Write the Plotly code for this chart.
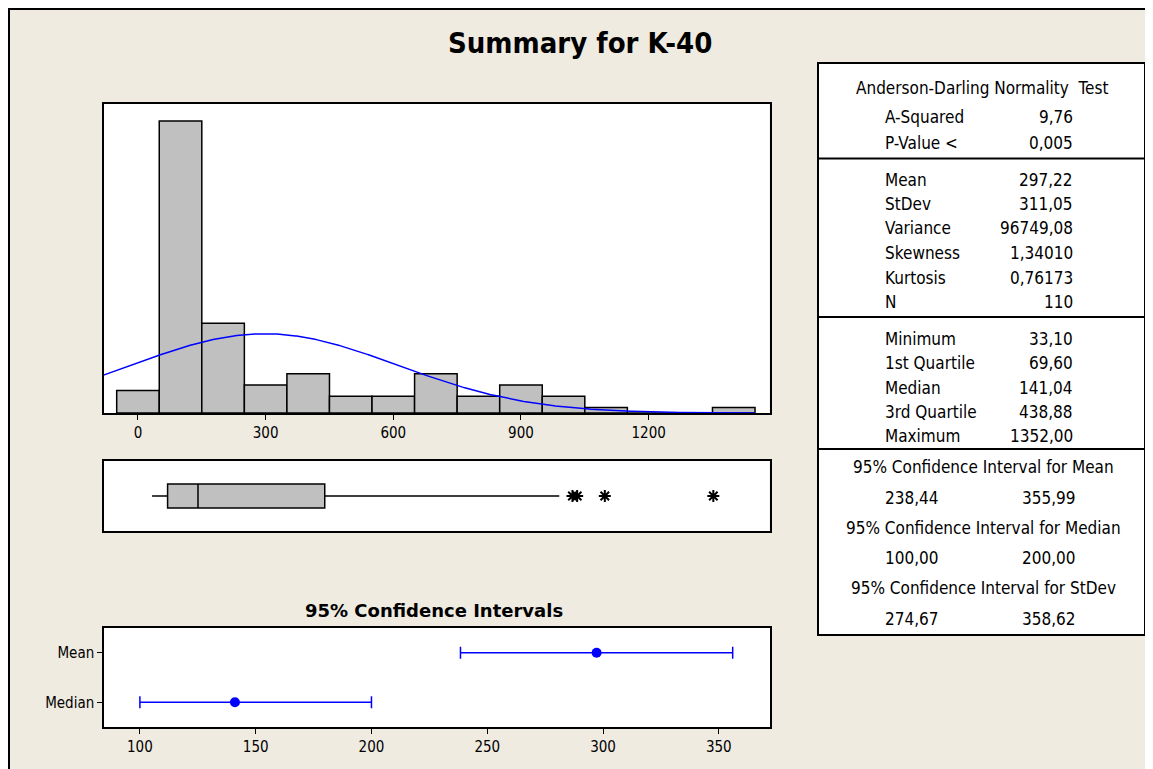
import numpy as np
import plotly.graph_objects as go

W, H = 1153, 769
OFF = 8  # page body margin of the written html page

# ---------------- data ----------------
bin_centers = [0, 100, 200, 300, 400, 500, 600, 700, 800, 900, 1000, 1100, 1200, 1300, 1400]
bin_counts = [4, 52, 16, 5, 7, 3, 3, 7, 3, 5, 3, 1, 0, 0, 1]
bin_width = 100
n_obs = 110
mean_val = 297.22
stdev_val = 311.05

box_min = 33.10
box_q1 = 69.60
box_median = 141.04
box_q3 = 438.88
box_upper_whisker = 990.0
outliers = [1021, 1032, 1097, 1352]

ci_labels = ["Median", "Mean"]
ci_center = [141.04, 297.22]
ci_lower = [100.00, 238.44]
ci_upper = [200.00, 355.99]

hist_ticks = [0, 300, 600, 900, 1200]
ci_ticks = [100, 150, 200, 250, 300, 350]

ad_header = "Anderson-Darling Normality  Test"
ad_labels = ["A-Squared", "P-Value <"]
ad_values = ["9,76", "0,005"]
desc_labels = ["Mean", "StDev", "Variance", "Skewness", "Kurtosis", "N"]
desc_values = ["297,22", "311,05", "96749,08", "1,34010", "0,76173", "110"]
quant_labels = ["Minimum", "1st Quartile", "Median", "3rd Quartile", "Maximum"]
quant_values = ["33,10", "69,60", "141,04", "438,88", "1352,00"]
ci_headers = ["95% Confidence Interval for Mean",
              "95% Confidence Interval for Median",
              "95% Confidence Interval for StDev"]
ci_low_txt = ["238,44", "100,00", "274,67"]
ci_high_txt = ["355,99", "200,00", "358,62"]

title_text = "Summary for K-40"
ci_title = "95% Confidence Intervals"

# ---------------- helpers (screen pixel -> paper) ----------------
def px(x):
    return (x - OFF) / W

def py(y):
    return 1 - (y - OFF) / H

FONT = "DejaVu Sans Condensed, DejaVu Sans, Tahoma, sans-serif"
BG = "#EFEBE1"

fig = go.Figure()

# histogram
fig.add_trace(go.Bar(
    x=bin_centers, y=bin_counts, width=bin_width,
    marker=dict(color="#C0C0C0", line=dict(color="black", width=1.5)),
    xaxis="x", yaxis="y", showlegend=False, hoverinfo="x+y"))

# fitted normal curve (from displayed mean / stdev)
xs = np.linspace(-81, 1450, 500)
ys = n_obs * bin_width * np.exp(-0.5 * ((xs - mean_val) / stdev_val) ** 2) / (stdev_val * np.sqrt(2 * np.pi))
fig.add_trace(go.Scatter(x=xs, y=ys, mode="lines", line=dict(color="#0000FF", width=1.5),
                         xaxis="x", yaxis="y", showlegend=False, hoverinfo="skip"))

# boxplot
fig.add_trace(go.Box(
    y=[0], orientation="h",
    q1=[box_q1], median=[box_median], q3=[box_q3],
    lowerfence=[box_min], upperfence=[box_upper_whisker],
    fillcolor="#C0C0C0", line=dict(color="black", width=1.5),
    whiskerwidth=0, width=0.69, boxpoints=False,
    xaxis="x2", yaxis="y2", showlegend=False))
fig.add_trace(go.Scatter(
    x=outliers, y=[0] * len(outliers), mode="markers",
    marker=dict(symbol="asterisk-open", size=10, color="black", line=dict(color="black", width=2)),
    xaxis="x2", yaxis="y2", showlegend=False))

# confidence intervals
ci_y = [1, 2]
fig.add_trace(go.Scatter(
    x=ci_center, y=ci_y, mode="markers",
    marker=dict(color="#0000FF", size=10),
    error_x=dict(type="data", symmetric=False,
                 array=[u - c for u, c in zip(ci_upper, ci_center)],
                 arrayminus=[c - l for c, l in zip(ci_center, ci_lower)],
                 color="#0000FF", thickness=1.5, width=6),
    xaxis="x3", yaxis="y3", showlegend=False))

axis_common = dict(showline=True, mirror=True, linecolor="black", linewidth=1.5,
                   showgrid=False, zeroline=False)
tickfont = dict(family=FONT, size=15, color="black")

fig.update_layout(
    width=W, height=H, autosize=False,
    margin=dict(l=0, r=0, t=0, b=0),
    paper_bgcolor=BG, plot_bgcolor="white",
    showlegend=False,
    xaxis=dict(domain=[px(103.5), px(769.5)], range=[-81, 1484], anchor="y",
               tickvals=hist_ticks, ticks="outside", ticklen=5, tickcolor="black",
               tickfont=tickfont, **axis_common),
    yaxis=dict(domain=[py(413), py(103.5)], range=[0, 55.1], anchor="x",
               showticklabels=False, ticks="", **axis_common),
    xaxis2=dict(domain=[px(103.5), px(769.5)], range=[-81, 1484], anchor="y2",
                showticklabels=False, ticks="", **axis_common),
    yaxis2=dict(domain=[py(531), py(461)], range=[-1, 1], anchor="x2",
                showticklabels=False, ticks="", **axis_common),
    xaxis3=dict(domain=[px(104), px(770)], range=[84.5, 372.1], anchor="y3",
                tickvals=ci_ticks, ticks="outside", ticklen=5, tickcolor="black",
                tickfont=tickfont, **axis_common),
    yaxis3=dict(domain=[py(727), py(628)], range=[0.5, 2.5], anchor="x3",
                tickvals=ci_y, ticktext=ci_labels, ticks="outside", ticklen=5,
                tickcolor="black", tickfont=tickfont, **axis_common),
)

shapes = []
# frame lines at the figure's top and left edges
shapes.append(dict(type="line", xref="paper", yref="paper", x0=0, x1=1, y0=py(9), y1=py(9),
                   line=dict(color="black", width=2)))
shapes.append(dict(type="line", xref="paper", yref="paper", x0=px(9), x1=px(9), y0=0, y1=1,
                   line=dict(color="black", width=2)))
# stats table
tx0, tx1, ty0, ty1 = 818, 1145, 63, 635
shapes.append(dict(type="rect", xref="paper", yref="paper", x0=px(tx0), x1=px(tx1), y0=py(ty1), y1=py(ty0),
                   fillcolor="white", line=dict(color="black", width=2)))
for yl in [158.5, 317, 449]:
    shapes.append(dict(type="line", xref="paper", yref="paper", x0=px(tx0), x1=px(tx1), y0=py(yl), y1=py(yl),
                       line=dict(color="black", width=2)))

annotations = []
tfont = dict(family=FONT, size=17, color="black")

def text(x, y, s, xanchor="left", font=tfont):
    annotations.append(dict(x=px(x), y=py(y), xref="paper", yref="paper", text=s, showarrow=False,
                            xanchor=xanchor, yanchor="middle", font=font))

text(580, 43, "<b>" + title_text + "</b>", "center", dict(family=FONT, size=29, color="black"))
text(434, 610, "<b>" + ci_title + "</b>", "center",
     dict(family="DejaVu Sans, Verdana, sans-serif", size=18, color="black"))

LX, RX = 883, 1075
text(982, 88, ad_header, "center")
for lab, val, y in zip(ad_labels, ad_values, [117, 143]):
    text(LX, y, lab)
    text(RX, y, val, "right")
for lab, val, y in zip(desc_labels, desc_values, [180, 204, 228, 253, 278, 302]):
    text(LX, y, lab)
    text(RX, y, val, "right")
for lab, val, y in zip(quant_labels, quant_values, [339, 363, 388, 412, 436]):
    text(LX, y, lab)
    text(RX, y, val, "right")
for hdr, lo, hi, yh, yv in zip(ci_headers, ci_low_txt, ci_high_txt, [467, 528, 588], [498, 558, 619]):
    text(983, yh, hdr, "center")
    text(LX, yv, lo)
    text(1020, yv, hi)

fig.update_layout(shapes=shapes, annotations=annotations)

fig.write_html("out.html", default_width="1153px", default_height="769px")
